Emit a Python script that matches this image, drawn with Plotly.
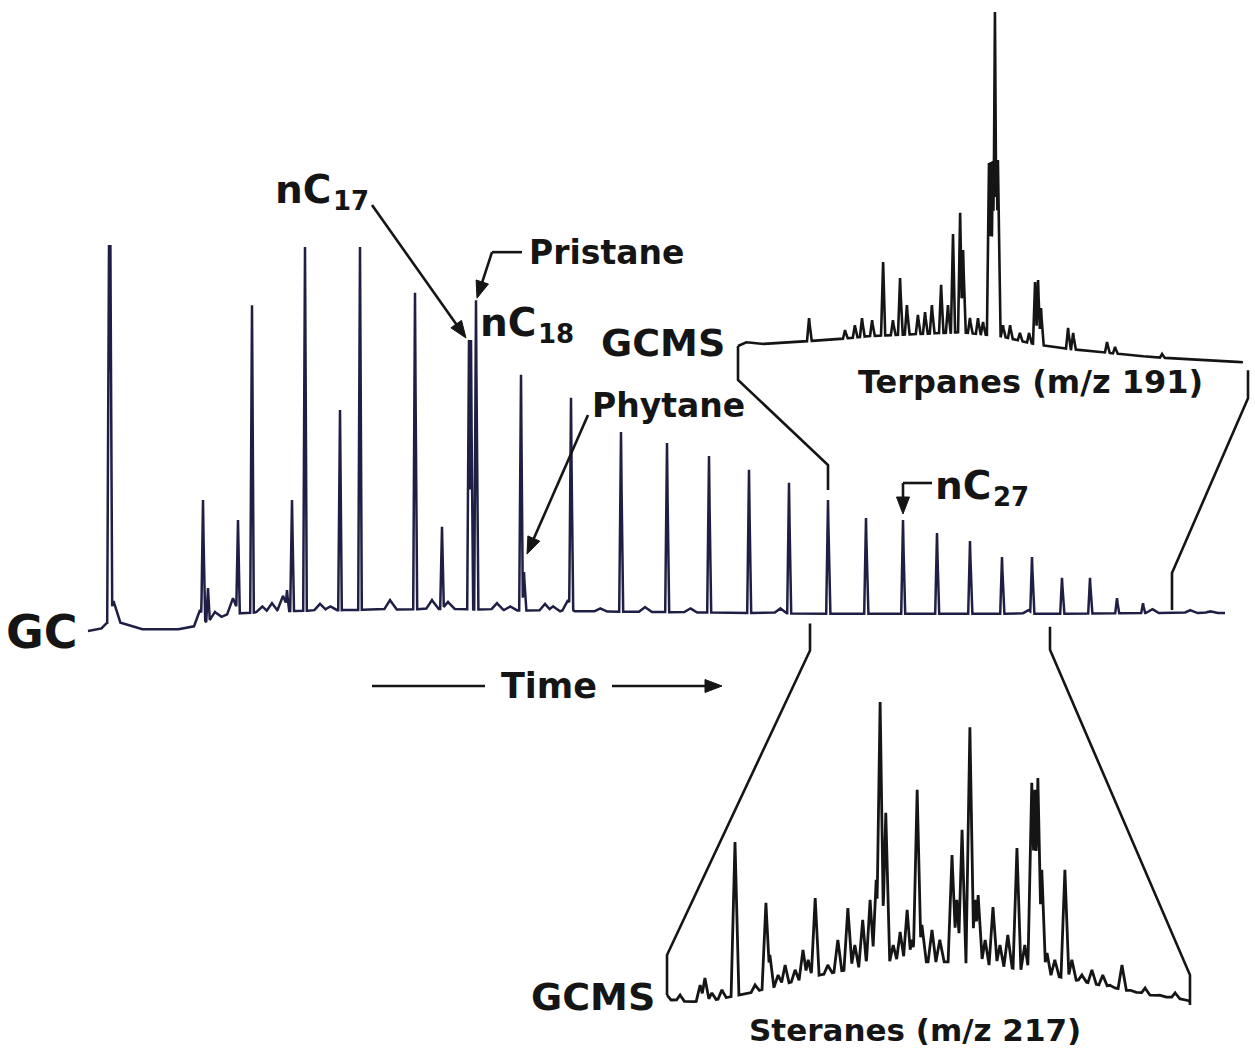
import numpy as np
import plotly.graph_objects as go

W, H = 1255, 1057
INK = "#151515"
GC_INK = "#1f1f45"
FONT = "DejaVu Sans"

# ---------------- whole-oil gas chromatogram (GC) ----------------
gc_base_time = [-0.60, 0.05, 0.30, 0.90, 2.00, 3.75, 4.75, 6.50, 9.00, 12.50,
                17.50, 22.50, 27.50, 32.50, 37.50, 42.50, 47.50, 52.50, 56.25]
gc_base_resp = [-0.8, -0.3, 1.3, 1.6, -0.3, -0.5, 0.5, 3.7, 4.4, 4.7,
                5.0, 4.4, 4.2, 3.9, 3.7, 3.7, 3.7, 3.9, 3.9]

gc_peak_time = [0.45, 0.52, 5.15, 5.40, 6.90, 7.60, 9.35, 9.60, 10.25, 12.00,
                13.00, 15.75, 17.10, 18.45, 18.55, 18.80, 21.05, 21.20, 23.55, 26.05,
                28.35, 30.45, 32.45, 34.45, 36.40, 38.30, 40.15, 41.85, 43.50, 45.10,
                46.60, 48.10, 49.50, 50.85, 52.15]
gc_peak_resp = [100.0, 100.0, 33.4, 10.4, 28.2, 84.3, 9.9, 33.4, 99.5, 56.9,
                99.5, 87.5, 26.4, 75.2, 75.2, 85.6, 66.1, 14.6, 60.1, 51.2,
                48.3, 44.9, 41.3, 37.9, 33.4, 28.7, 28.2, 24.8, 22.7, 18.5,
                18.5, 13.1, 13.1, 7.8, 6.5]

gc_minor_time = [0.68, 5.00, 5.75, 6.65, 8.10, 8.60, 9.15, 11.00, 11.50, 14.50, 16.60,
                 17.40, 19.85, 20.50, 22.25, 22.65, 23.40, 25.00, 27.25, 29.50, 34.00,
                 46.40, 52.60, 54.50, 55.50]
gc_minor_resp = [7.0, 4.7, 4.2, 7.8, 5.7, 6.5, 8.4, 6.3, 5.7, 7.3, 7.3,
                 6.8, 6.5, 5.7, 6.3, 5.7, 7.3, 5.2, 5.5, 5.2, 5.2,
                 4.7, 5.0, 4.7, 4.4]

# labelled GC compounds
gc_label_names = ["nC17", "Pristane", "nC18", "Phytane", "nC27"]
gc_label_time = [18.45, 18.80, 21.05, 21.20, 40.15]

# ---------------- terpanes, m/z 191 ----------------
ter_base_time = [36.45, 36.69, 37.19, 38.20, 39.54, 40.89, 42.57, 43.92, 45.26, 46.27,
                 47.28, 48.62, 50.30, 51.99, 53.43]
ter_base_resp = [5.4, 6.5, 5.9, 6.5, 7.1, 8.2, 8.8, 9.3, 8.2, 6.2,
                 4.8, 3.7, 2.3, 1.4, 0.8]
ter_peak_time = [38.84, 40.05, 40.38, 40.62, 40.96, 41.33, 41.66, 41.90, 42.13, 42.50,
                 42.74, 42.97, 43.28, 43.51, 43.68, 43.92, 44.02, 44.25, 44.52, 44.69,
                 44.89, 44.95, 45.02, 45.09, 45.15, 45.19, 45.36, 45.60, 45.93, 46.24,
                 46.44, 46.54, 46.64, 47.55, 47.72, 48.86, 49.13, 50.71]
ter_peak_resp = [13.3, 9.9, 11.3, 13.3, 12.7, 29.2, 12.7, 24.6, 17.0, 14.2,
                 15.0, 17.0, 22.7, 17.0, 37.1, 43.1, 32.6, 13.3, 13.3, 12.2,
                 57.2, 57.5, 57.8, 100.0, 58.0, 58.1, 11.3, 11.3, 9.1, 9.1,
                 23.5, 24.1, 16.1, 10.5, 9.1, 6.5, 5.1, 3.1]

# ---------------- steranes, m/z 217 ----------------
ste_base_time = [35.50, 35.57, 36.03, 36.60, 37.40, 38.09, 39.01, 39.93, 40.85, 41.99,
                 43.14, 44.29, 45.43, 46.58, 47.45, 47.50]
ste_base_resp = [3.3, 1.7, 1.0, 1.7, 4.0, 6.6, 9.9, 12.5, 14.2, 14.2,
                 12.9, 9.9, 6.6, 3.3, 1.7, 1.0]
ste_peak_time = [35.80, 36.26, 36.37, 36.53, 36.76, 37.06, 37.52, 37.77, 37.86, 38.05,
                 38.21, 38.44, 38.62, 38.74, 38.90, 39.19, 39.42, 39.65, 39.81, 39.99,
                 40.16, 40.30, 40.39, 40.52, 40.69, 40.85, 41.01, 41.12, 41.24, 41.35,
                 41.58, 41.76, 42.04, 42.15, 42.27, 42.45, 42.57, 42.64, 42.80, 42.98,
                 43.14, 43.32, 43.53, 43.71, 43.87, 43.94, 44.01, 44.10, 44.22, 44.40,
                 44.63, 44.79, 45.02, 45.25, 45.50, 45.66, 45.94, 46.12, 46.47, 46.81,
                 47.16]
ste_peak_resp = [3.3, 6.6, 8.9, 4.0, 5.0, 53.8, 6.6, 33.7, 16.5, 9.9,
                 13.2, 11.6, 18.2, 14.9, 35.3, 13.2, 21.5, 32.0, 19.8, 28.1,
                 34.7, 41.3, 100.0, 63.4, 19.8, 24.1, 31.4, 21.5, 71.0, 26.4,
                 24.8, 21.5, 49.5, 34.7, 57.8, 91.7, 34.7, 36.3, 21.5, 32.3,
                 19.8, 23.1, 51.8, 19.8, 73.3, 71.0, 74.9, 44.6, 17.2, 14.9,
                 44.6, 14.9, 9.9, 11.6, 9.9, 6.6, 13.2, 5.0, 5.6, 3.3,
                 4.0]

# time windows of the GC expanded in the two GCMS insets
ter_window = (36.40, 53.60)
ste_window = (35.50, 47.50)

# axis layout: (x domain, x range, y domain, y range)
AX = {
    "gc": ((0.0, 1.0), (-5.0, 57.75), (0.0, 1.0), (-112.01, 163.97)),
    "ter": ((730 / W, 1.0), (36.181, 53.835), (0.64522, 1.0), (-2.833, 103.40)),
    "ste": ((660 / W, 1200 / W), (35.339, 47.730), (0.039735, 0.35667), (-3.30, 107.26)),
}


def to_px(ax, t, r):
    (dx0, dx1), (rx0, rx1), (dy0, dy1), (ry0, ry1) = AX[ax]
    fx = dx0 + (t - rx0) / (rx1 - rx0) * (dx1 - dx0)
    fy = dy0 + (r - ry0) / (ry1 - ry0) * (dy1 - dy0)
    return fx * W, (1 - fy) * H


def paper(px, py):
    return px / W, 1 - py / H


def trace_profile(bt, br, groups, step):
    """Baseline plus sharp triangular peaks, taking the upper envelope."""
    bt = np.asarray(bt, float)
    br = np.asarray(br, float)
    extra = []
    for pt, pr, w in groups:
        pt = np.asarray(pt, float)
        extra += [pt, pt - w, pt + w]
    t = np.union1d(np.arange(bt[0], bt[-1], step), np.concatenate(extra + [bt]))
    t = t[(t >= bt[0]) & (t <= bt[-1])]
    base = np.interp(t, bt, br)
    lift = np.zeros_like(t)
    for pt, pr, w in groups:
        for tk, rk in zip(pt, pr):
            amp = rk - np.interp(tk, bt, br)
            if amp <= 0:
                continue
            tri = amp * (1 - np.abs(t - tk) / w)
            lift = np.maximum(lift, tri)
    return t, base + lift


gc_t, gc_r = trace_profile(gc_base_time, gc_base_resp,
                           [(gc_peak_time, gc_peak_resp, 0.09),
                            (gc_minor_time, gc_minor_resp, 0.30)], 0.02)
ter_t, ter_r = trace_profile(ter_base_time, ter_base_resp,
                             [(ter_peak_time, ter_peak_resp, 0.07)], 0.01)
ste_t, ste_r = trace_profile(ste_base_time, ste_base_resp,
                             [(ste_peak_time, ste_peak_resp, 0.09)], 0.01)

fig = go.Figure()
fig.add_trace(go.Scatter(x=gc_t, y=gc_r, mode="lines", xaxis="x", yaxis="y",
                         line=dict(color=GC_INK, width=2.5), hoverinfo="skip"))
fig.add_trace(go.Scatter(x=ter_t, y=ter_r, mode="lines", xaxis="x2", yaxis="y2",
                         line=dict(color=INK, width=2.6), hoverinfo="skip"))
fig.add_trace(go.Scatter(x=ste_t, y=ste_r, mode="lines", xaxis="x3", yaxis="y3",
                         line=dict(color=INK, width=2.8), hoverinfo="skip"))

shapes = []


def polyline(points, width=2.6):
    path = ""
    for i, (px, py) in enumerate(points):
        fx, fy = paper(px, py)
        path += ("M" if i == 0 else "L") + f"{fx:.5f},{fy:.5f} "
    shapes.append(dict(type="path", path=path.strip(), xref="paper", yref="paper",
                       line=dict(color=INK, width=width)))


def pointer(tail, head, length=17, half=6.5, width=2.6):
    """Straight leader line ending in a solid triangular arrowhead."""
    (tx, ty), (hx, hy) = tail, head
    d = np.hypot(hx - tx, hy - ty)
    ux, uy = (hx - tx) / d, (hy - ty) / d
    bx, by = hx - ux * length, hy - uy * length
    polyline([(tx, ty), (bx + ux * 2, by + uy * 2)], width=width)
    tri = [(hx, hy), (bx - uy * half, by + ux * half), (bx + uy * half, by - ux * half)]
    path = ""
    for i, (px, py) in enumerate(tri):
        fx, fy = paper(px, py)
        path += ("M" if i == 0 else "L") + f"{fx:.5f},{fy:.5f} "
    shapes.append(dict(type="path", path=path + "Z", xref="paper", yref="paper",
                       fillcolor=INK, line=dict(color=INK, width=1)))


def peak_px(name, gap=0):
    t = gc_label_time[gc_label_names.index(name)]
    r = gc_peak_resp[gc_peak_time.index(t)]
    px, py = to_px("gc", t, r)
    return px, py - gap


# bracket: GC window -> terpane inset
gc_apex_ter = gc_peak_resp[gc_peak_time.index(ter_window[0])]
x0, y0 = to_px("gc", ter_window[0], gc_apex_ter)
xa, ya = to_px("ter", ter_base_time[0], ter_base_resp[0])
polyline([(x0, y0 - 10), (x0, y0 - 35), (xa, ya + 34), (xa, ya)])
x1, y1 = to_px("gc", ter_window[1], np.interp(ter_window[1], gc_base_time, gc_base_resp))
xb, yb = to_px("ter", ter_window[1], ter_base_resp[-1])
polyline([(xb, yb + 8), (xb, yb + 36), (x1, y1 - 40), (x1, y1 - 3)])

# bracket: GC window -> sterane inset
x0, y0 = to_px("gc", ste_window[0], np.interp(ste_window[0], gc_base_time, gc_base_resp))
xa, ya = to_px("ste", ste_base_time[0], ste_base_resp[0])
polyline([(x0, y0 + 10), (x0, y0 + 37), (xa, ya - 40), (xa, ya)])
x1, y1 = to_px("gc", ste_window[1], np.interp(ste_window[1], gc_base_time, gc_base_resp))
xb, yb = to_px("ste", ste_window[1], ste_base_resp[-1])
polyline([(x1, y1 + 13), (x1, y1 + 36), (xb, yb - 27), (xb, yb + 3)])

annotations = []


def label(text, px, py, size=33, xanchor="left"):
    fx, fy = paper(px, py)
    annotations.append(dict(text=f"<b>{text}</b>", x=fx, y=fy, xref="paper", yref="paper",
                            xanchor=xanchor, yanchor="middle", showarrow=False,
                            font=dict(family=FONT, size=size, color=INK)))


def alkane_label(carbons, px, py):
    """'nC' with the carbon number set as a separate, lowered subscript."""
    label("nC", px, py, size=39)
    label(carbons, px + 58, py + 12, size=26)


# compound labels and pointers
alkane_label("17", 273, 189)
hx, hy = peak_px("nC17", 2)
pointer((hx - 97, hy - 133), (hx - 3, hy))

label("Pristane", 527, 252, size=33)
hx, hy = peak_px("Pristane", 2)
polyline([(hx + 16, hy - 46), (hx + 46, hy - 46)])
pointer((hx + 16, hy - 46), (hx + 1, hy))

alkane_label("18", 478, 322)

label("Phytane", 590, 405, size=33)
hx, hy = peak_px("Phytane", 18)
pointer((hx + 64, hy - 139), (hx + 3, hy))

alkane_label("27", 933, 485)
hx, hy = peak_px("nC27", 6)
polyline([(hx, hy - 31), (hx + 29, hy - 31)])
pointer((hx, hy - 31), (hx, hy))

# trace labels
label("GC", 4, 632, size=46)
label("GCMS", 599, 343, size=38)
label("Terpanes (m/z 191)", 1030, 382, size=32, xanchor="center")
label("GCMS", 529, 997, size=38)
label("Steranes (m/z 217)", 915, 1030, size=31, xanchor="center")

# direction of elution
label("Time", 549, 686, size=35, xanchor="center")
polyline([(372, 686), (485, 686)])
pointer((612, 686), (722, 686))


def axis(dom, rng):
    return dict(domain=list(dom), range=list(rng), visible=False, fixedrange=True)


fig.update_layout(
    width=W, height=H, autosize=False,
    margin=dict(l=0, r=0, t=0, b=0, pad=0),
    paper_bgcolor="white", plot_bgcolor="rgba(0,0,0,0)",
    showlegend=False,
    xaxis=axis(AX["gc"][0], AX["gc"][1]), yaxis=axis(AX["gc"][2], AX["gc"][3]),
    xaxis2=dict(axis(AX["ter"][0], AX["ter"][1]), anchor="y2"),
    yaxis2=dict(axis(AX["ter"][2], AX["ter"][3]), anchor="x2"),
    xaxis3=dict(axis(AX["ste"][0], AX["ste"][1]), anchor="y3"),
    yaxis3=dict(axis(AX["ste"][2], AX["ste"][3]), anchor="x3"),
    shapes=shapes,
    annotations=annotations,
)

fig.write_html("out.html")
